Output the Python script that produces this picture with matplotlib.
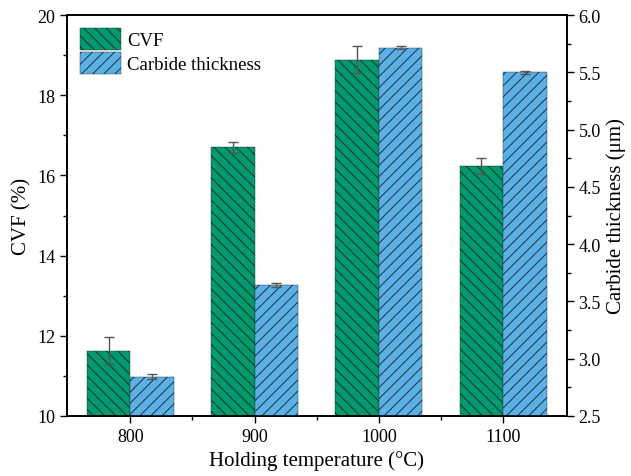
import numpy as np
import matplotlib.pyplot as plt
from matplotlib.ticker import MultipleLocator, FixedLocator

# data
temps = ["800", "900", "1000", "1100"]
cvf = [11.63, 16.70, 18.89, 16.23]
cvf_err = [0.33, 0.13, 0.34, 0.20]
thickness = [2.843, 3.643, 5.717, 5.500]
thickness_err = [0.02, 0.015, 0.01, 0.012]

plt.rcParams['font.family'] = ['Liberation Serif', 'DejaVu Serif']
plt.rcParams['hatch.linewidth'] = 0.7

green = "#009A6E"
blue = "#5BB1E6"

fig, ax = plt.subplots(figsize=(6.31, 4.77), dpi=100)
fig.subplots_adjust(left=0.106, right=0.898, top=0.966, bottom=0.126)
ax2 = ax.twinx()

x = np.arange(len(temps))
w = 0.35

b1 = ax.bar(x - w / 2, cvf, w, color=green, hatch="\\\\\\", edgecolor="#1f2f2a",
            linewidth=0.3, label="CVF", zorder=2)
ax.errorbar(x - w / 2, cvf, yerr=cvf_err, fmt="none", ecolor="#555555",
            elinewidth=1, capsize=3.5, capthick=1, zorder=3)
b2 = ax2.bar(x + w / 2, thickness, w, color=blue, hatch="///", edgecolor="#1f2f3a",
             linewidth=0.3, label="Carbide thickness", zorder=2)
ax2.errorbar(x + w / 2, thickness, yerr=thickness_err, fmt="none", ecolor="#555555",
             elinewidth=1, capsize=3.5, capthick=1, zorder=3)

ax.set_xlim(-0.51, 3.51)
ax.set_ylim(10, 20)
ax2.set_ylim(2.5, 6.0)

ax.set_xticks(x)
ax.set_xticklabels(temps)
ax.xaxis.set_minor_locator(FixedLocator(x[:-1] + 0.5))
ax.yaxis.set_major_locator(MultipleLocator(2))
ax.yaxis.set_minor_locator(MultipleLocator(1))
ax2.yaxis.set_major_locator(MultipleLocator(0.5))
ax2.yaxis.set_minor_locator(MultipleLocator(0.25))
ax2.set_yticklabels([f"{v:.1f}" for v in ax2.get_yticks()])

for a in (ax, ax2):
    a.tick_params(which="major", direction="out", length=5, width=1, labelsize=13)
    a.tick_params(which="minor", direction="out", length=3, width=1)
    for s in a.spines.values():
        s.set_linewidth(1.2)

ax.set_xlabel("Holding temperature (°C)", fontsize=15)
ax.set_ylabel("CVF (%)", fontsize=15)
ax2.set_ylabel("Carbide thickness (μm)", fontsize=15)

ax.legend([b1, b2], ["CVF", "Carbide thickness"], loc="upper left", frameon=False,
          fontsize=13.5, handlelength=2.2, handleheight=1.4, handletextpad=0.3,
          labelspacing=0.1, borderaxespad=0.3, bbox_to_anchor=(0.0, 1.0))

plt.savefig("out.png", dpi=100)
